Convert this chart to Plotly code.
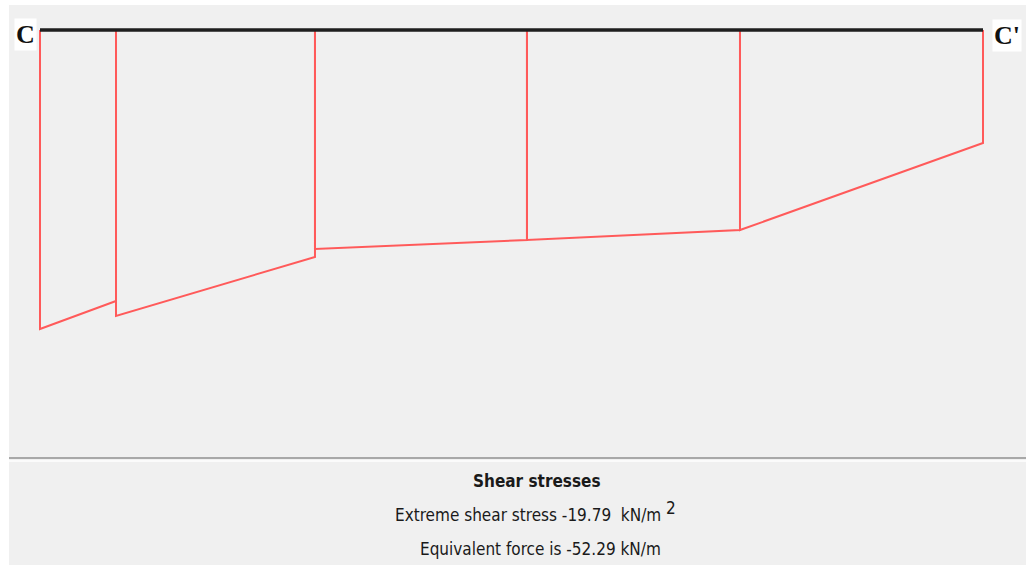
import plotly.graph_objects as go

# Section stations along C-C' (m) and shear stress values (kN/m^2)
stations = [0.0, 0.806, 2.916, 5.164, 7.423, 10.0]
stress_start = [-19.79, -18.93, -14.49, -13.90, -13.24]   # value at left end of each segment
stress_end = [-17.94, -15.02, -13.90, -13.24, -7.48]      # value at right end of each segment
title_text = "Shear stresses"
extreme_text = "Extreme shear stress -19.79  kN/m <sup><span style='font-size:17px'>2</span></sup>"
force_text = "Equivalent force is -52.29 kN/m"
end_labels = ["C", "C'"]

W, H = 1026, 565
# pixel calibration of the axes
px_x0, px_per_m = 40.0, 94.3
px_y0, px_per_unit = 30.0, 299.0 / 19.79
x_range = [(0 - px_x0) / px_per_m, (W - px_x0) / px_per_m]
y_range = [-(H - px_y0) / px_per_unit, px_y0 / px_per_unit]

xs, ys = [], []
for i in range(len(stress_start)):
    xa, xb = stations[i], stations[i + 1]
    xs += [xa, xa, xb, xb, None]
    ys += [0, stress_start[i], stress_end[i], 0, None]

fig = go.Figure()
fig.add_trace(go.Scatter(x=xs, y=ys, mode="lines",
                         line=dict(color="#ff5a5a", width=2), hoverinfo="skip",
                         showlegend=False))
fig.add_trace(go.Scatter(x=[stations[0], stations[-1]], y=[0, 0], mode="lines",
                         line=dict(color="#1e1e1e", width=3.5), hoverinfo="skip",
                         showlegend=False))

shapes = [
    dict(type="rect", xref="paper", yref="paper", x0=9 / W, x1=1, y0=0, y1=1 - 5 / H,
         fillcolor="#f0f0f0", line=dict(width=0), layer="below"),
    dict(type="line", xref="paper", yref="paper", x0=9 / W, x1=1,
         y0=1 - 458 / H, y1=1 - 458 / H, line=dict(color="#a8a8a8", width=2)),
    dict(type="line", xref="paper", yref="paper", x0=9 / W, x1=1,
         y0=1 - 461 / H, y1=1 - 461 / H, line=dict(color="#ffffff", width=1.5)),
]

serif = "Liberation Serif, Times New Roman, serif"
sans = "Liberation Sans Narrow, DejaVu Sans Condensed, Arial Narrow, sans-serif"
ann = [
    dict(x=stations[0], y=0, xref="x", yref="y", text="<b>" + end_labels[0] + "</b>",
         xanchor="right", yanchor="middle", xshift=-3, yshift=-4, showarrow=False,
         font=dict(family=serif, size=26, color="#111"), bgcolor="#ffffff"),
    dict(x=stations[-1], y=0, xref="x", yref="y", text="<b>" + end_labels[1] + "</b>",
         xanchor="left", yanchor="middle", xshift=9, yshift=-5, showarrow=False,
         font=dict(family=serif, size=26, color="#111"), bgcolor="#ffffff"),
    dict(x=537 / W, y=1 - 481 / H, xref="paper", yref="paper", text="<b>" + title_text + "</b>",
         showarrow=False, xanchor="center", yanchor="middle",
         font=dict(family=sans, size=17, color="#1a1a1a")),
    dict(x=535 / W, y=1 - 511 / H, xref="paper", yref="paper", text=extreme_text,
         showarrow=False, xanchor="center", yanchor="middle",
         font=dict(family=sans, size=17, color="#1a1a1a")),
    dict(x=540 / W, y=1 - 549 / H, xref="paper", yref="paper", text=force_text,
         showarrow=False, xanchor="center", yanchor="middle",
         font=dict(family=sans, size=17, color="#1a1a1a")),
]

fig.update_layout(
    width=W, height=H, margin=dict(l=0, r=0, t=0, b=0),
    paper_bgcolor="#ffffff", plot_bgcolor="rgba(0,0,0,0)",
    shapes=shapes, annotations=ann,
    xaxis=dict(range=x_range, visible=False, fixedrange=True),
    yaxis=dict(range=y_range, visible=False, fixedrange=True),
)
fig.write_html("out.html", config={"displayModeBar": False},
               post_script="document.body.style.margin='0';document.body.style.overflow='hidden';")
